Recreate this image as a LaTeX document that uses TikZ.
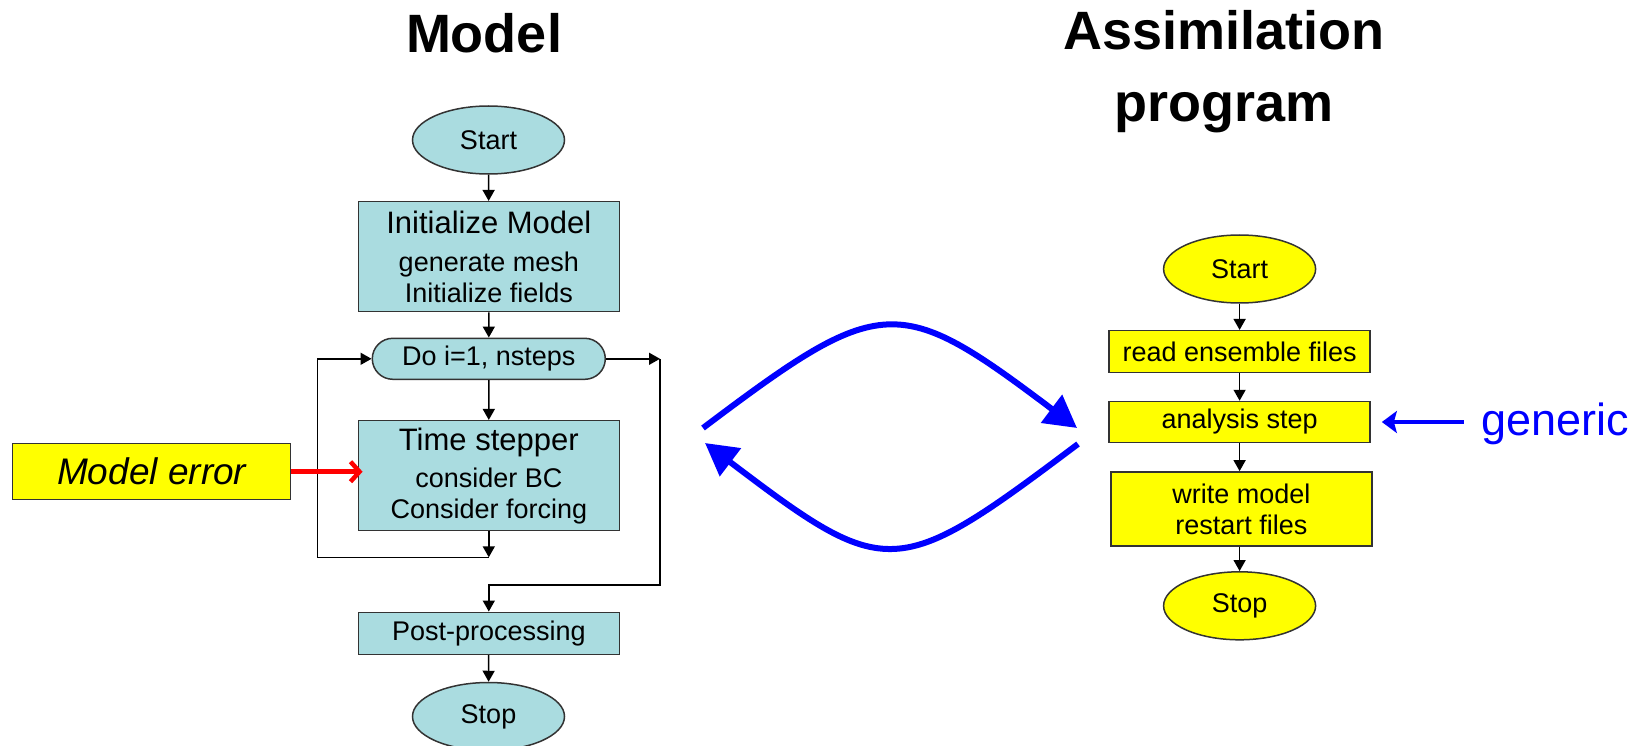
\documentclass[tikz,border=0pt]{standalone}
\usepackage{fontspec}
\setmainfont{Liberation Sans}
\usetikzlibrary{arrows.meta,shapes.geometric,shapes.misc}

\definecolor{modelfill}{HTML}{AADCE0}
\definecolor{boxline}{HTML}{333333}
\definecolor{assimfill}{HTML}{FFFF00}
\definecolor{linkblue}{HTML}{0000FF}
\definecolor{errred}{HTML}{FF0000}

\newcommand{\smallfnt}{\fontsize{27}{31}\selectfont}
\newcommand{\bigfnt}{\fontsize{31}{31}\selectfont}

\tikzset{
  base/.style={draw=boxline, line width=1.5pt, inner sep=0pt, align=center, font=\smallfnt},
  tealbox/.style={base, rectangle, fill=modelfill, minimum width=261pt},
  tealoval/.style={base, ellipse, fill=modelfill, minimum width=152pt, minimum height=68pt},
  loopoval/.style={base, rounded rectangle, fill=modelfill, minimum width=233pt, minimum height=41pt},
  yelbox/.style={base, rectangle, fill=assimfill, minimum width=261pt},
  yeloval/.style={base, ellipse, fill=assimfill, minimum width=152pt, minimum height=68pt},
  flow/.style={draw=black, line width=1.5pt, -{Triangle[length=11pt,width=12pt]}},
  errarrow/.style={draw=errred, line width=4.5pt, -{Straight Barb[length=9pt,width=20pt,line width=4.5pt]}},
  swap/.style={draw=linkblue, line width=6pt, -{Triangle[length=32pt,width=34pt]}},
  genarrow/.style={draw=linkblue, line width=3.5pt, -{Stealth[length=15pt,width=22pt,inset=3pt]}},
  title/.style={font=\fontsize{54}{72}\selectfont\bfseries, inner sep=0pt, align=center}
}

\begin{document}
\begin{tikzpicture}[x=1pt,y=-1pt]
\useasboundingbox (0,0) rectangle (1639,746);

% headings
\node[title, anchor=base] (tmodel) at (484,53) {Model};
\node[title, anchor=north] (tassim) at (1224,10) {Assimilation\\program};

% model flow chart
\node[tealoval] (mstart) at (488.5,140) {Start};
\node[tealbox, minimum height=110pt] (minit) at (488.8,256.7)
  {{\bigfnt Initialize Model}\\[7pt]generate mesh\\Initialize fields};
\node[loopoval] (mdo) at (488.8,358.8) {Do i=1, nsteps};
\node[tealbox, minimum height=110pt] (mtime) at (488.8,475.7)
  {{\bigfnt Time stepper}\\[6pt]consider BC\\Consider forcing};
\node[tealbox, minimum height=42pt] (mpost) at (488.8,633.3) {Post-processing};
\node[tealoval] (mstop) at (488.5,716.5) {Stop};

\node[base, rectangle, fill=assimfill, minimum width=278pt, minimum height=56pt,
      font=\fontsize{37}{37}\selectfont\itshape] (merr) at (151.7,471.7) {Model error};

% loop corners
\coordinate (ljoin) at (488.8,557.3);
\coordinate (lleft) at (317.3,557.3);
\coordinate (rtop) at (660,358.8);
\coordinate (rjoin) at (488.8,585);

\draw[flow] (mstart) -- (minit);
\draw[flow] (minit) -- (mdo);
\draw[flow] (mdo) -- (mtime);
\draw[flow] (mtime) -- (ljoin);
\draw[flow] (ljoin) -- (lleft) |- (mdo.west);
\draw[flow] (mdo.east) -- (rtop);
\draw[flow] (rtop) |- (rjoin) -- (mpost);
\draw[flow] (mpost) -- (mstop);
\draw[errarrow, shorten >=-5pt] (merr.east) -- (mtime.west |- merr.east);

% assimilation flow chart
\node[yeloval] (astart) at (1239.6,269) {Start};
\node[yelbox, minimum height=42pt] (aread) at (1239.6,351.7) {read ensemble files};
\node[yelbox, minimum height=41pt] (aana) at (1239.6,422) {analysis step};
\node[yelbox, minimum height=74pt] (awrite) at (1241.3,508.9) {write model\\restart files};
\node[yeloval] (astop) at (1239.6,605.8) {Stop};

\draw[flow] (astart) -- (aread);
\draw[flow] (aread) -- (aana);
\draw[flow] (aana) -- (aana |- awrite.north);
\draw[flow] (awrite.south -| astop) -- (astop);

% generic label
\node[anchor=base west, inner sep=0pt, text=linkblue, font=\fontsize{45}{45}\selectfont]
  (agen) at (1481.7,435) {generic};
\draw[genarrow, shorten <=18pt, shorten >=11pt] (agen.west |- aana) -- (aana.east);

% exchange between model and assimilation
\coordinate (upS) at (703,428);
\coordinate (upE) at (1077,428);
\coordinate (loS) at (1078,444);
\coordinate (loE) at (705,443);
\draw[swap] (upS) .. controls (882,293) and (898,293) .. (upE);
\draw[swap] (loS) .. controls (896,581) and (887,581) .. (loE);
\end{tikzpicture}
\end{document}
